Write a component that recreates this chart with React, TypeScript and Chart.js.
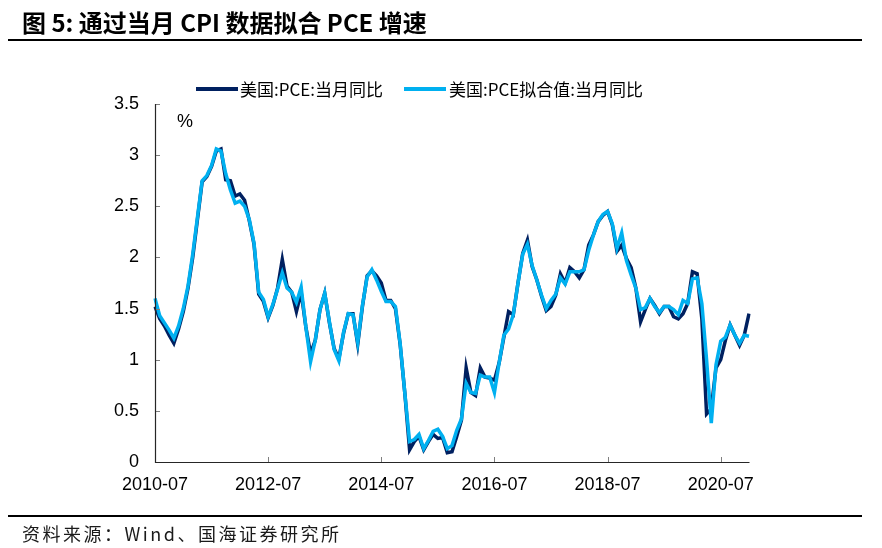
import React, { useEffect, useRef } from "react";
import { Chart, registerables } from "chart.js";

Chart.register(...registerables);

// Monthly categories 2010-07 .. 2021-01
const FIRST_YEAR = 2010;
const FIRST_MONTH = 7;
const MONTH_COUNT = 127;
const MONTHS: string[] = [];
for (let i = 0; i < MONTH_COUNT; i++) {
  const m = FIRST_MONTH - 1 + i;
  const yy = FIRST_YEAR + Math.floor(m / 12);
  const mm = (m % 12) + 1;
  MONTHS.push(`${yy}-${mm < 10 ? "0" + mm : mm}`);
}

const X_TICK_LABELS = ["2010-07", "2012-07", "2014-07", "2016-07", "2018-07", "2020-07"];
const Y_TICKS = [0, 0.5, 1, 1.5, 2, 2.5, 3, 3.5];

const SERIES_NAMES = ["美国:PCE:当月同比", "美国:PCE拟合值:当月同比"];

// 美国:PCE:当月同比 (%)
const PCE_ACTUAL = [
  1.52, 1.40, 1.33, 1.24, 1.16, 1.30, 1.47, 1.70, 2.00, 2.37, 2.74, 2.79,
  2.89, 3.04, 3.06, 2.76, 2.75, 2.60, 2.62, 2.56, 2.36, 2.13, 1.64, 1.57,
  1.41, 1.53, 1.70, 1.98, 1.72, 1.66, 1.47, 1.66, 1.32, 1.06, 1.19, 1.49,
  1.65, 1.36, 1.11, 1.01, 1.26, 1.45, 1.45, 1.15, 1.52, 1.82, 1.87, 1.82,
  1.75, 1.58, 1.58, 1.50, 1.15, 0.67, 0.12, 0.20, 0.25, 0.12, 0.20, 0.27,
  0.23, 0.24, 0.09, 0.10, 0.25, 0.41, 0.92, 0.68, 0.65, 0.92, 0.83, 0.82,
  0.80, 0.97, 1.22, 1.47, 1.44, 1.75, 2.04, 2.17, 1.91, 1.78, 1.62, 1.48,
  1.52, 1.63, 1.84, 1.75, 1.90, 1.86, 1.80, 1.88, 2.12, 2.22, 2.35, 2.41,
  2.45, 2.32, 2.06, 2.12, 1.99, 1.90, 1.70, 1.37, 1.49, 1.60, 1.53, 1.45,
  1.52, 1.52, 1.42, 1.40, 1.45, 1.55, 1.86, 1.84, 1.40, 0.47, 0.52, 0.92,
  1.00, 1.19, 1.34, 1.24, 1.14, 1.24, 1.45,
];

// 美国:PCE拟合值:当月同比 (%)
const PCE_FITTED = [
  1.60, 1.43, 1.36, 1.29, 1.21, 1.33, 1.50, 1.72, 2.03, 2.39, 2.75, 2.80,
  2.90, 3.06, 3.04, 2.82, 2.66, 2.53, 2.55, 2.50, 2.37, 2.14, 1.66, 1.59,
  1.42, 1.54, 1.69, 1.85, 1.70, 1.66, 1.56, 1.71, 1.32, 0.98, 1.19, 1.49,
  1.65, 1.37, 1.10, 0.99, 1.27, 1.45, 1.44, 1.17, 1.53, 1.81, 1.88, 1.78,
  1.67, 1.57, 1.57, 1.52, 1.16, 0.67, 0.20, 0.22, 0.27, 0.13, 0.21, 0.30,
  0.32, 0.25, 0.13, 0.16, 0.31, 0.42, 0.77, 0.68, 0.67, 0.85, 0.83, 0.83,
  0.68, 0.97, 1.24, 1.30, 1.44, 1.75, 2.03, 2.13, 1.92, 1.78, 1.63, 1.50,
  1.58, 1.64, 1.80, 1.74, 1.86, 1.86, 1.86, 1.88, 2.07, 2.22, 2.35, 2.42,
  2.45, 2.33, 2.09, 2.24, 1.97, 1.83, 1.70, 1.49, 1.51, 1.60, 1.52, 1.46,
  1.52, 1.52, 1.49, 1.44, 1.58, 1.55, 1.79, 1.80, 1.55, 1.00, 0.38, 0.95,
  1.18, 1.22, 1.34, 1.24, 1.16, 1.24, 1.23,
];

const DARK = "#002060";
const LIGHT = "#00B0F0";
const NUM_FONT = "'Liberation Sans', Arial, sans-serif";
const CJK_FONT = "'Noto Sans CJK SC', 'Liberation Sans', sans-serif";

const axisPlugin = {
  id: "axisDecor",
  afterDraw(chart: any) {
    const { ctx, chartArea, scales } = chart;
    const x = scales.x;
    const y = scales.y;
    ctx.save();
    // inward tick marks
    ctx.strokeStyle = "#7f7f7f";
    ctx.lineWidth = 1;
    ctx.beginPath();
    X_TICK_LABELS.forEach((lbl) => {
      const idx = MONTHS.indexOf(lbl);
      if (idx < 0) return;
      const px = Math.round(x.getPixelForValue(idx)) + 0.5;
      ctx.moveTo(px, chartArea.bottom);
      ctx.lineTo(px, chartArea.bottom - 5);
    });
    Y_TICKS.forEach((v) => {
      const py = Math.round(y.getPixelForValue(v)) + 0.5;
      ctx.moveTo(chartArea.left, py);
      ctx.lineTo(chartArea.left + 5, py);
    });
    ctx.stroke();
    // axis lines
    ctx.strokeStyle = "#262626";
    ctx.lineWidth = 1.2;
    ctx.beginPath();
    const lx = Math.round(chartArea.left) + 0.5;
    const by = Math.round(chartArea.bottom) + 0.5;
    ctx.moveTo(lx, Math.round(chartArea.top));
    ctx.lineTo(lx, by);
    ctx.lineTo(Math.round(chartArea.right) + 0.5, by);
    ctx.stroke();
    ctx.restore();
  },
};

export default function App() {
  const canvasRef = useRef<HTMLCanvasElement | null>(null);

  useEffect(() => {
    if (!canvasRef.current) return;
    const chart = new Chart(canvasRef.current, {
      type: "line",
      data: {
        labels: MONTHS,
        datasets: [
          {
            label: SERIES_NAMES[0],
            data: PCE_ACTUAL,
            borderColor: DARK,
            backgroundColor: DARK,
            borderWidth: 3.5,
            pointRadius: 0,
            tension: 0,
            order: 2,
          },
          {
            label: SERIES_NAMES[1],
            data: PCE_FITTED,
            borderColor: LIGHT,
            backgroundColor: LIGHT,
            borderWidth: 3.5,
            pointRadius: 0,
            tension: 0,
            order: 1,
          },
        ],
      },
      options: {
        responsive: false,
        animation: false,
        devicePixelRatio: 1,
        layout: { padding: { left: 0, right: 133, top: 104, bottom: 0 } },
        plugins: {
          legend: { display: false },
          tooltip: { enabled: false },
        },
        scales: {
          x: {
            type: "category",
            offset: false,
            grid: { display: false, drawTicks: false },
            border: { display: false },
            ticks: {
              autoSkip: false,
              maxRotation: 0,
              minRotation: 0,
              padding: 12,
              color: "#000",
              font: { family: NUM_FONT, size: 18 },
              callback: (_v: any, idx: number) =>
                X_TICK_LABELS.includes(MONTHS[idx]) ? MONTHS[idx] : null,
            },
            afterFit: (s: any) => {
              s.height = 86;
            },
          },
          y: {
            min: 0,
            max: 3.5,
            grid: { display: false, drawTicks: false },
            border: { display: false },
            afterBuildTicks: (s: any) => {
              s.ticks = Y_TICKS.map((v) => ({ value: v }));
            },
            ticks: {
              padding: 16,
              color: "#000",
              font: { family: NUM_FONT, size: 18 },
              callback: (v: any) => String(v),
            },
            afterFit: (s: any) => {
              s.width = 155;
            },
          },
        },
      },
      plugins: [axisPlugin],
    });
    return () => chart.destroy();
  }, []);

  const abs: React.CSSProperties = { position: "absolute" };

  return (
    <div
      style={{
        position: "absolute",
        left: 0,
        top: 0,
        width: 882,
        height: 548,
        background: "#fff",
        overflow: "hidden",
      }}
    >
      <canvas ref={canvasRef} width={882} height={548} style={{ ...abs, left: 0, top: 0 }} />
      <div
        style={{
          ...abs,
          left: 22,
          top: 8,
          fontFamily: CJK_FONT,
          fontWeight: 700,
          fontSize: 24,
          lineHeight: "28px",
          color: "#000",
          whiteSpace: "nowrap",
        }}
      >
        图 5: 通过当月 CPI 数据拟合 PCE 增速
      </div>
      <div style={{ ...abs, left: 8, top: 39, width: 854, height: 2, background: "#000" }} />
      <div style={{ ...abs, left: 196, top: 87, width: 42, height: 4, background: DARK }} />
      <div
        style={{
          ...abs,
          left: 240,
          top: 78,
          fontFamily: CJK_FONT,
          fontSize: 17,
          lineHeight: "22px",
          color: "#000",
          whiteSpace: "nowrap",
        }}
      >
        {SERIES_NAMES[0]}
      </div>
      <div style={{ ...abs, left: 404, top: 87, width: 42, height: 4, background: LIGHT }} />
      <div
        style={{
          ...abs,
          left: 449,
          top: 78,
          fontFamily: CJK_FONT,
          fontSize: 17,
          lineHeight: "22px",
          color: "#000",
          whiteSpace: "nowrap",
        }}
      >
        {SERIES_NAMES[1]}
      </div>
      <div
        style={{
          ...abs,
          left: 177,
          top: 110,
          fontFamily: NUM_FONT,
          fontSize: 18,
          lineHeight: "22px",
          color: "#000",
        }}
      >
        %
      </div>
      <div style={{ ...abs, left: 8, top: 515, width: 854, height: 1.5, background: "#000" }} />
      <div
        style={{
          ...abs,
          left: 22,
          top: 521,
          fontFamily: CJK_FONT,
          fontSize: 18,
          letterSpacing: "2.5px",
          lineHeight: "24px",
          color: "#1a1a1a",
          whiteSpace: "nowrap",
        }}
      >
        资料来源：Wind、国海证券研究所
      </div>
    </div>
  );
}
